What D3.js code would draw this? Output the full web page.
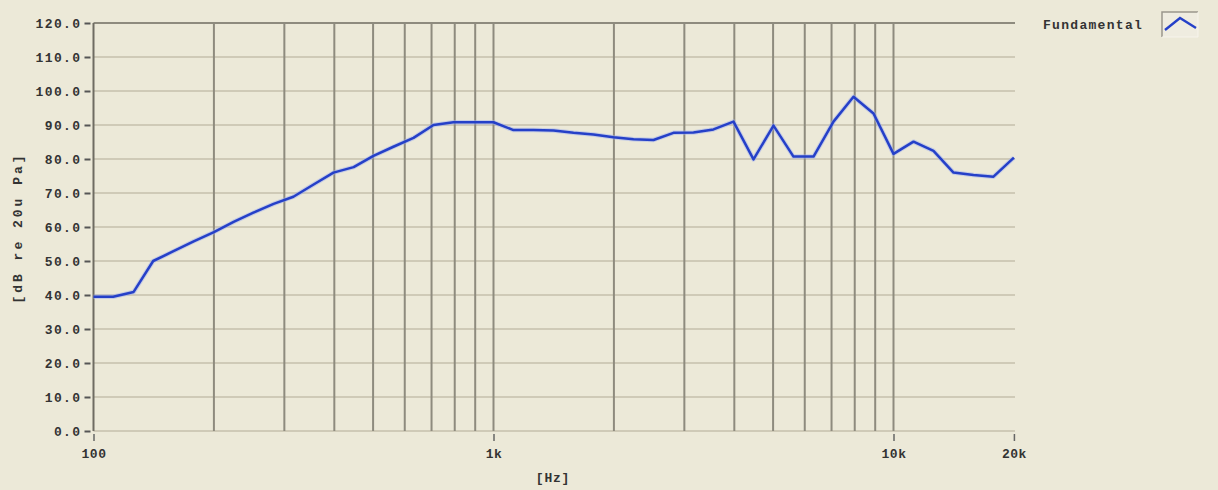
<!DOCTYPE html>
<html>
<head>
<meta charset="utf-8">
<script src="https://cdn.jsdelivr.net/npm/d3@7"></script>
<style>
  html, body { margin: 0; padding: 0; background: #ece9d8; }
  svg { display: block; }
  text { font-family: "Liberation Mono", "DejaVu Sans Mono", monospace; fill: #333; }
</style>
</head>
<body>
<svg id="chart" width="1218" height="490"></svg>
<script>
// ---- data ----
const freqs = [100,112,126,141,158,178,200,224,251,282,316,355,398,447,501,562,631,708,794,891,
  1000,1122,1259,1413,1585,1778,1995,2239,2512,2818,3162,3548,3981,4467,5012,5623,6310,7079,7943,8913,
  10000,11220,12589,14125,15849,17783,20000];
const levels = [39.5,39.5,40.9,50.0,52.8,55.8,58.5,61.5,64.2,66.8,68.9,72.5,76.0,77.6,80.9,83.6,86.2,90.0,90.8,90.8,
  90.8,88.5,88.5,88.4,87.7,87.2,86.4,85.8,85.6,87.7,87.8,88.7,91.0,79.9,89.8,80.7,80.7,91.0,98.3,93.4,
  81.5,85.1,82.4,76.0,75.3,74.8,80.4];
const yTicks = [0,10,20,30,40,50,60,70,80,90,100,110,120];
const xTickValues = [100,1000,10000,20000];
const xTickLabels = ["100","1k","10k","20k"];
const gridFreqs = [200,300,400,500,600,700,800,900,1000,2000,3000,4000,5000,6000,7000,8000,9000,10000];
const seriesName = "Fundamental";
const xTitle = "[Hz]";
const yTitle = "[dB re 20u Pa]";

// ---- layout ----
const svg = d3.select("#chart");
const pL = 93.5, pR = 1015, pT = 23, pB = 431;
const x = d3.scaleLog().domain([100, 20000]).range([pL, pL + 400 * Math.log10(200)]);
const y = d3.scaleLinear().domain([0, 120]).range([pB, pT]);

// horizontal grid
svg.append("g").selectAll("line").data(yTicks).join("line")
  .attr("x1", pL).attr("x2", pR)
  .attr("y1", d => y(d)).attr("y2", d => y(d))
  .attr("stroke", d => d === 120 ? "#8e8b7e" : "#cfcab7")
  .attr("stroke-width", 2);

// vertical grid
svg.append("g").selectAll("line").data(gridFreqs).join("line")
  .attr("x1", d => x(d)).attr("x2", d => x(d))
  .attr("y1", pT).attr("y2", pB)
  .attr("stroke", "#8e8b7e")
  .attr("stroke-width", 2);

// left axis
const yAxis = svg.append("g").attr("transform", `translate(${pL},0)`)
  .call(d3.axisLeft(y).tickValues(yTicks).tickFormat(d3.format(".1f")).tickSize(6).tickPadding(4));
yAxis.select(".domain").attr("stroke", "#6f6c62").attr("stroke-width", 2).attr("d", `M0,${pT}V${pB}`);
yAxis.selectAll(".tick line").attr("stroke", "#555").attr("stroke-width", 2).attr("x1", -3).attr("x2", -9);
yAxis.selectAll(".tick text").attr("x", -12)
  .style("font-family", "'Liberation Mono', monospace").style("font-size", "13px")
  .style("font-weight", "bold").style("letter-spacing", "1.4px").attr("fill", "#3a3a3a")
  .attr("dy", "0.35em");

// bottom axis
const xAxis = svg.append("g").attr("transform", `translate(0,${pB})`)
  .call(d3.axisBottom(x).tickValues(xTickValues)
    .tickFormat((d, i) => xTickLabels[i]).tickSize(10).tickPadding(8));
xAxis.select(".domain").remove();
xAxis.selectAll(".tick line").attr("stroke", "#666").attr("stroke-width", 1.5).attr("y1", 3);
xAxis.selectAll(".tick text")
  .style("font-family", "'Liberation Mono', monospace").style("font-size", "13px")
  .style("font-weight", "bold").style("letter-spacing", "0.5px").attr("fill", "#3a3a3a");

// curve
const line = d3.line().x((d, i) => x(freqs[i])).y(d => y(d));
svg.append("path").datum(levels)
  .attr("d", line).attr("fill", "none")
  .attr("stroke", "#9fb0f0").attr("stroke-opacity", 0.5).attr("stroke-width", 4.5)
  .attr("stroke-linejoin", "round");
svg.append("path").datum(levels)
  .attr("d", line).attr("fill", "none")
  .attr("stroke", "#2540c8").attr("stroke-width", 2.5)
  .attr("stroke-linejoin", "round");

// titles
svg.append("text").attr("x", 553).attr("y", 482).attr("text-anchor", "middle")
  .style("font-size", "13px").style("font-weight", "bold").style("letter-spacing", "0.8px")
  .attr("fill", "#3a3a3a").text(xTitle);
svg.append("text").attr("transform", "translate(22,228) rotate(-90)").attr("text-anchor", "middle")
  .style("font-size", "13px").style("font-weight", "bold").style("letter-spacing", "3px")
  .attr("fill", "#3a3a3a").text(yTitle);

// legend
const lg = svg.append("g");
lg.append("text").attr("x", 1043).attr("y", 29)
  .style("font-size", "13px").style("font-weight", "bold").style("letter-spacing", "1.3px")
  .attr("fill", "#3a3a3a").text(seriesName);
lg.append("rect").attr("x", 1162).attr("y", 12).attr("width", 36).attr("height", 25)
  .attr("fill", "#efece0").attr("stroke", "none");
lg.append("path").attr("d", "M1162,37V12H1198").attr("fill", "none").attr("stroke", "#9a978c").attr("stroke-width", 1.5);
lg.append("path").attr("d", "M1198,12V37H1162").attr("fill", "none").attr("stroke", "#f6f4ec").attr("stroke-width", 1);
lg.append("path").attr("d", "M1165,30L1180,18L1196,28").attr("fill", "none")
  .attr("stroke", "#2540c8").attr("stroke-width", 2.4);
</script>
</body>
</html>
